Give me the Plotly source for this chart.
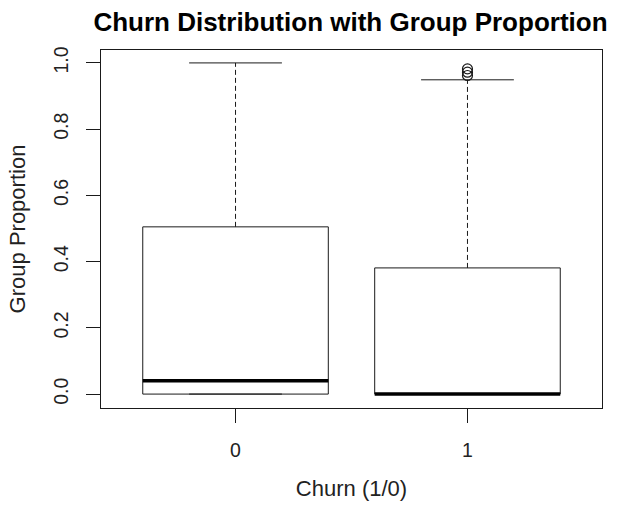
import plotly.graph_objects as go

# Summary statistics of group proportion by churn status
categories = ["0", "1"]
positions = [1, 2]
q1 = [0.0, 0.0]
median = [0.04, 0.0]
q3 = [0.505, 0.381]
lower_whisker = [0.0, 0.0]
upper_whisker = [1.0, 0.949]
outliers = [[], [0.962, 0.972, 0.982]]

box_half = 0.4
cap_half = 0.2
ink = "#1a1a1a"

fig = go.Figure()

for i, x in enumerate(positions):
    # box outline
    fig.add_trace(go.Scatter(
        x=[x - box_half, x + box_half, x + box_half, x - box_half, x - box_half],
        y=[q1[i], q1[i], q3[i], q3[i], q1[i]],
        mode="lines", line=dict(color=ink, width=1), hoverinfo="skip"))
    # dashed whiskers
    fig.add_trace(go.Scatter(
        x=[x, x, None, x, x],
        y=[q3[i], upper_whisker[i], None, q1[i], lower_whisker[i]],
        mode="lines", line=dict(color=ink, width=1, dash="5px,3px"), hoverinfo="skip"))
    # whisker caps
    fig.add_trace(go.Scatter(
        x=[x - cap_half, x + cap_half, None, x - cap_half, x + cap_half],
        y=[upper_whisker[i], upper_whisker[i], None, lower_whisker[i], lower_whisker[i]],
        mode="lines", line=dict(color=ink, width=1), hoverinfo="skip"))
    # median
    fig.add_trace(go.Scatter(
        x=[x - box_half, x + box_half], y=[median[i], median[i]],
        mode="lines", line=dict(color="black", width=3.5), hoverinfo="skip"))
    # outliers
    if outliers[i]:
        fig.add_trace(go.Scatter(
            x=[x] * len(outliers[i]), y=outliers[i], mode="markers",
            marker=dict(symbol="circle-open", size=10, color=ink, line=dict(width=1.2)),
            hoverinfo="skip"))

font = "Liberation Sans, Arial, Helvetica, sans-serif"
tick_font = dict(family=font, size=19.5, color="#222")
label_font = dict(family=font, size=22, color="#222")

fig.update_layout(
    width=617, height=507,
    margin=dict(l=101, r=15, t=50, b=99),
    paper_bgcolor="white", plot_bgcolor="white",
    showlegend=False,
    font=dict(family=font, size=18, color="#222"),
    title=dict(text="<b>Churn Distribution with Group Proportion</b>",
               x=0.568, xanchor="center", y=0.956, yanchor="middle",
               font=dict(family=font, size=26, color="black")),
    xaxis=dict(range=[0.42, 2.58], tickvals=positions, ticktext=categories,
               automargin=False,
               showgrid=False, zeroline=False,
               showline=True, mirror=True, linecolor=ink, linewidth=1,
               ticks="outside", ticklen=14, tickcolor=ink,
               tickfont=tick_font,
               ticklabelstandoff=11,
               title=dict(text="Churn (1/0)", standoff=20, font=label_font)),
    yaxis=dict(range=[-0.042, 1.039], tickvals=[0, 0.2, 0.4, 0.6, 0.8, 1.0],
               ticktext=["0.0", "0.2", "0.4", "0.6", "0.8", "1.0"],
               tickangle=-90,
               automargin=False,
               showgrid=False, zeroline=False,
               showline=True, mirror=True, linecolor=ink, linewidth=1,
               ticks="outside", ticklen=14, tickcolor=ink,
               tickfont=tick_font,
               ticklabelstandoff=10,
               title=dict(text="Group Proportion", standoff=18, font=label_font)),
)

fig.write_html("out.html")
